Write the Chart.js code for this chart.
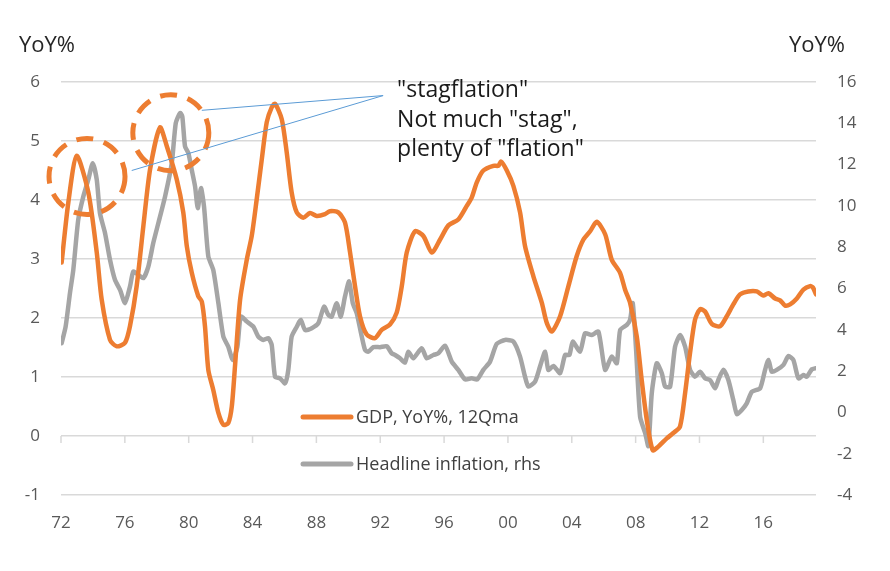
<!DOCTYPE html>
<html>
<head>
<meta charset="utf-8">
<style>
  html, body { margin: 0; padding: 0; background: #fff; }
  #wrap { width: 890px; height: 571px; }
</style>
<script src="https://cdn.jsdelivr.net/npm/chart.js@4.4.1/dist/chart.umd.min.js"></script>
</head>
<body>
<div id="wrap"><canvas id="grafico" width="890" height="571"></canvas></div>
<script>
// GDP, YoY%, 12Q moving average (left axis)
const gdpYears = [1972.04, 1972.46, 1972.98, 1973.71, 1974.24, 1974.55, 1975.07, 1975.49, 1976.01, 1976.32,
  1976.74, 1977.16, 1977.58, 1978.20, 1978.62, 1979.25, 1979.66, 1979.88, 1980.19, 1980.60,
  1980.82, 1981.02, 1981.23, 1981.54, 1981.86, 1982.17, 1982.48, 1982.70, 1982.90, 1983.22,
  1983.64, 1983.95, 1984.26, 1984.58, 1984.89, 1985.20, 1985.41, 1985.83, 1986.14, 1986.45,
  1986.77, 1987.18, 1987.60, 1988.02, 1988.54, 1988.85, 1989.37, 1989.79, 1990.11, 1990.42,
  1990.73, 1991.15, 1991.67, 1992.09, 1992.61, 1993.03, 1993.35, 1993.66, 1994.18, 1994.70,
  1995.23, 1995.75, 1996.27, 1996.89, 1997.42, 1997.73, 1998.05, 1998.46, 1999.09, 1999.40,
  1999.57, 1999.93, 2000.34, 2000.76, 2001.07, 2001.59, 2002.12, 2002.43, 2002.75, 2003.27,
  2003.79, 2004.31, 2004.73, 2005.15, 2005.56, 2006.09, 2006.50, 2007.02, 2007.34, 2007.65,
  2008.07, 2008.38, 2008.70, 2009.07, 2009.42, 2009.95, 2010.36, 2010.78, 2011.10, 2011.41,
  2011.72, 2012.04, 2012.35, 2012.77, 2013.29, 2013.71, 2014.12, 2014.54, 2015.06, 2015.59,
  2016.00, 2016.32, 2016.74, 2017.05, 2017.36, 2017.68, 2018.10, 2018.51, 2018.93, 2019.10, 2019.30];
const gdpValues = [2.94, 3.96, 4.75, 4.13, 3.11, 2.31, 1.63, 1.52, 1.58, 1.86,
  2.54, 3.56, 4.52, 5.23, 4.92, 4.35, 3.79, 3.22, 2.77, 2.37,
  2.28, 1.86, 1.12, 0.78, 0.39, 0.19, 0.22, 0.50, 1.18, 2.31,
  2.99, 3.39, 4.01, 4.69, 5.32, 5.57, 5.63, 5.37, 4.81, 4.13,
  3.79, 3.70, 3.78, 3.73, 3.76, 3.81, 3.79, 3.62, 3.11, 2.54,
  2.03, 1.72, 1.66, 1.80, 1.89, 2.09, 2.54, 3.11, 3.47, 3.39,
  3.11, 3.33, 3.57, 3.67, 3.90, 4.04, 4.30, 4.50, 4.58, 4.58,
  4.65, 4.50, 4.24, 3.79, 3.22, 2.71, 2.26, 1.92, 1.77, 2.03,
  2.54, 3.05, 3.33, 3.47, 3.63, 3.42, 2.99, 2.77, 2.48, 2.26,
  1.69, 0.95, 0.27, -0.24, -0.18, -0.04, 0.05, 0.16, 0.73, 1.41,
  1.97, 2.15, 2.11, 1.90, 1.86, 2.03, 2.23, 2.40, 2.45, 2.45,
  2.38, 2.42, 2.33, 2.30, 2.21, 2.23, 2.33, 2.48, 2.54, 2.52, 2.40];

// Headline inflation (right axis)
const inflYears = [1972.04, 1972.29, 1972.56, 1972.77, 1973.08, 1973.40, 1973.71, 1973.99, 1974.24, 1974.44,
  1974.76, 1975.07, 1975.38, 1975.70, 1976.01, 1976.32, 1976.53, 1976.84, 1977.16, 1977.47,
  1977.78, 1978.10, 1978.52, 1978.94, 1979.19, 1979.46, 1979.60, 1979.77, 1979.98, 1980.19,
  1980.40, 1980.57, 1980.77, 1980.96, 1981.23, 1981.54, 1981.86, 1982.17, 1982.48, 1982.76,
  1983.05, 1983.26, 1983.64, 1984.05, 1984.36, 1984.68, 1984.99, 1985.20, 1985.41, 1985.72,
  1986.04, 1986.24, 1986.45, 1986.77, 1987.02, 1987.29, 1987.71, 1988.12, 1988.48, 1988.75,
  1988.96, 1989.27, 1989.53, 1989.79, 1990.05, 1990.28, 1990.53, 1990.80, 1991.05, 1991.25,
  1991.57, 1991.99, 1992.41, 1992.72, 1992.93, 1993.24, 1993.55, 1993.76, 1994.07, 1994.60,
  1994.91, 1995.33, 1995.64, 1996.06, 1996.48, 1996.89, 1997.31, 1997.73, 1998.08, 1998.46,
  1998.88, 1999.30, 1999.82, 2000.34, 2000.76, 2001.07, 2001.28, 2001.70, 2002.01, 2002.33,
  2002.53, 2002.85, 2003.27, 2003.58, 2003.85, 2004.06, 2004.52, 2004.83, 2005.25, 2005.67,
  2006.09, 2006.50, 2006.82, 2007.03, 2007.45, 2007.65, 2007.82, 2008.03, 2008.28, 2008.60,
  2008.80, 2009.01, 2009.32, 2009.64, 2009.85, 2010.16, 2010.47, 2010.79, 2011.10, 2011.41,
  2011.72, 2012.04, 2012.35, 2012.66, 2012.98, 2013.18, 2013.50, 2013.81, 2014.12, 2014.34,
  2014.65, 2014.96, 2015.28, 2015.80, 2016.11, 2016.32, 2016.53, 2016.84, 2017.26, 2017.57,
  2017.88, 2018.20, 2018.51, 2018.72, 2019.04, 2019.30];
const inflValues = [3.35, 4.15, 5.77, 6.90, 9.33, 10.46, 11.27, 12.07, 11.27, 9.65,
  8.68, 7.39, 6.42, 5.93, 5.29, 6.09, 6.82, 6.66, 6.50, 7.06,
  8.20, 9.17, 10.46, 12.07, 14.01, 14.50, 14.33, 12.88, 12.56, 11.75,
  10.94, 9.89, 10.86, 9.97, 7.55, 6.90, 5.29, 3.67, 3.18, 2.54,
  3.18, 4.64, 4.40, 4.15, 3.67, 3.51, 3.59, 3.27, 1.73, 1.65,
  1.41, 2.06, 3.67, 4.15, 4.48, 3.99, 4.08, 4.32, 5.12, 4.72,
  4.64, 5.29, 4.64, 5.61, 6.34, 5.29, 4.80, 3.83, 3.02, 2.94,
  3.16, 3.16, 3.20, 2.86, 2.78, 2.62, 2.41, 2.94, 2.62, 3.11,
  2.62, 2.78, 2.86, 3.23, 2.46, 2.06, 1.60, 1.65, 1.60, 2.06,
  2.46, 3.32, 3.51, 3.43, 2.70, 1.73, 1.25, 1.49, 2.22, 2.94,
  2.06, 2.25, 1.90, 2.78, 2.78, 3.43, 2.94, 3.83, 3.75, 3.91,
  2.06, 2.70, 2.38, 3.99, 4.24, 4.48, 5.29, 3.02, -0.21, -1.01,
  -1.63, 0.92, 2.38, 1.90, 1.25, 1.25, 3.18, 3.75, 3.18, 2.06,
  1.73, 1.97, 1.65, 1.57, 1.17, 1.57, 2.06, 1.57, 0.60, -0.08,
  0.12, 0.44, 1.00, 1.17, 2.06, 2.54, 1.97, 2.06, 2.30, 2.73,
  2.54, 1.65, 1.81, 1.73, 2.09, 2.14];

const seriesNames = ['GDP, YoY%, 12Qma', 'Headline inflation, rhs'];
const xTickYears = [1972, 1976, 1980, 1984, 1988, 1992, 1996, 2000, 2004, 2008, 2012, 2016];
const xRange = [1972, 2019.3];
const gdpAxis = { min: -1, max: 6, step: 1 };
const inflAxis = { min: -4, max: 16, step: 2 };
const axisTitle = 'YoY%';
const noteLines = ['"stagflation"', 'Not much "stag",', 'plenty of "flation"'];

// anotaciones en unidades de datos (año, valor del eje izquierdo)
const circles = [{ x: 1973.63, y: 4.40 }, { x: 1978.88, y: 5.14 }];
const pointerFrom = [{ x: 1980.82, y: 5.52 }, { x: 1976.43, y: 4.50 }];
const pointerTo = { x: 1992.18, y: 5.77 };

const ORANGE = '#ED7D31';
const GRAY = '#A5A5A5';
const FONT = '"Open Sans", "Noto Sans", sans-serif';

const overlay = {
  id: 'overlay',
  beforeDatasetsDraw(chart) {
    const { ctx, scales } = chart;
    const y0 = scales.y.getPixelForValue(0);
    ctx.save();
    ctx.strokeStyle = '#d9d9d9';
    ctx.lineWidth = 1.5;
    xTickYears.forEach((yr) => {
      const px = scales.x.getPixelForValue(yr);
      ctx.beginPath();
      ctx.moveTo(px, y0);
      ctx.lineTo(px, y0 + 7);
      ctx.stroke();
    });
    ctx.restore();
  },
  afterDraw(chart) {
    const { ctx, scales } = chart;
    const sx = scales.x, sy = scales.y;
    ctx.save();

    // titulos de los ejes
    ctx.fillStyle = '#262626';
    ctx.font = '22px ' + FONT;
    ctx.textBaseline = 'alphabetic';
    ctx.textAlign = 'left';
    ctx.fillText(axisTitle, 19, 52);
    ctx.fillText(axisTitle, 789, 52);

    // circulos punteados
    ctx.strokeStyle = ORANGE;
    ctx.lineWidth = 5;
    ctx.setLineDash([17, 11]);
    circles.forEach((c) => {
      ctx.beginPath();
      ctx.arc(sx.getPixelForValue(c.x), sy.getPixelForValue(c.y), 38, 0, Math.PI * 2);
      ctx.stroke();
    });
    ctx.setLineDash([]);

    // lineas hacia el texto
    ctx.strokeStyle = '#5B9BD5';
    ctx.lineWidth = 1;
    const tx = sx.getPixelForValue(pointerTo.x), ty = sy.getPixelForValue(pointerTo.y);
    pointerFrom.forEach((p) => {
      ctx.beginPath();
      ctx.moveTo(sx.getPixelForValue(p.x), sy.getPixelForValue(p.y));
      ctx.lineTo(tx, ty);
      ctx.stroke();
    });

    // texto de la nota
    ctx.fillStyle = '#1a1a1a';
    ctx.font = '23px ' + FONT;
    noteLines.forEach((line, i) => {
      ctx.fillText(line, tx + 14, 97 + i * 29.5);
    });

    // leyenda
    const colors = [ORANGE, GRAY];
    ctx.font = '18px ' + FONT;
    ctx.textBaseline = 'middle';
    seriesNames.forEach((name, i) => {
      const ly = 417 + i * 47;
      ctx.strokeStyle = colors[i];
      ctx.lineWidth = 5;
      ctx.lineCap = 'round';
      ctx.beginPath();
      ctx.moveTo(303, ly);
      ctx.lineTo(351, ly);
      ctx.stroke();
      ctx.fillStyle = '#404040';
      ctx.fillText(name, 356, ly + 1);
    });
    ctx.restore();
  }
};

const tickFont = { family: FONT, size: 17 };

new Chart(document.getElementById('grafico').getContext('2d'), {
  type: 'line',
  data: {
    datasets: [
      {
        label: seriesNames[0],
        data: gdpYears.map((x, i) => ({ x, y: gdpValues[i] })),
        yAxisID: 'y',
        borderColor: ORANGE,
        borderWidth: 4.5,
        pointRadius: 0,
        tension: 0.25,
        borderJoinStyle: 'round',
        borderCapStyle: 'round'
      },
      {
        label: seriesNames[1],
        data: inflYears.map((x, i) => ({ x, y: inflValues[i] })),
        yAxisID: 'y2',
        borderColor: GRAY,
        borderWidth: 4.5,
        pointRadius: 0,
        tension: 0.2,
        borderJoinStyle: 'round',
        borderCapStyle: 'round'
      }
    ]
  },
  options: {
    responsive: false,
    animation: false,
    layout: { padding: { top: 82, left: 0, right: 0, bottom: 0 } },
    plugins: { legend: { display: false }, tooltip: { enabled: false } },
    scales: {
      x: {
        type: 'linear',
        min: xRange[0],
        max: xRange[1],
        grid: { display: false },
        border: { display: false },
        afterBuildTicks: (s) => { s.ticks = xTickYears.map((v) => ({ value: v })); },
        afterFit: (s) => { s.height = 76; },
        ticks: {
          padding: 10,
          color: '#595959',
          font: tickFont,
          maxRotation: 0,
          autoSkip: false,
          callback: (v) => String(v % 100).padStart(2, '0')
        }
      },
      y: {
        position: 'left',
        min: gdpAxis.min,
        max: gdpAxis.max,
        grid: { color: '#d9d9d9', lineWidth: 1.5, drawTicks: false },
        border: { display: false },
        afterFit: (s) => { s.width = 61; },
        ticks: { stepSize: gdpAxis.step, padding: 21, color: '#595959', font: tickFont }
      },
      y2: {
        position: 'right',
        min: inflAxis.min,
        max: inflAxis.max,
        grid: { display: false, drawTicks: false },
        border: { display: false },
        afterFit: (s) => { s.width = 74; },
        ticks: { stepSize: inflAxis.step, padding: 21, color: '#595959', font: tickFont }
      }
    }
  },
  plugins: [overlay]
});
</script>
</body>
</html>
